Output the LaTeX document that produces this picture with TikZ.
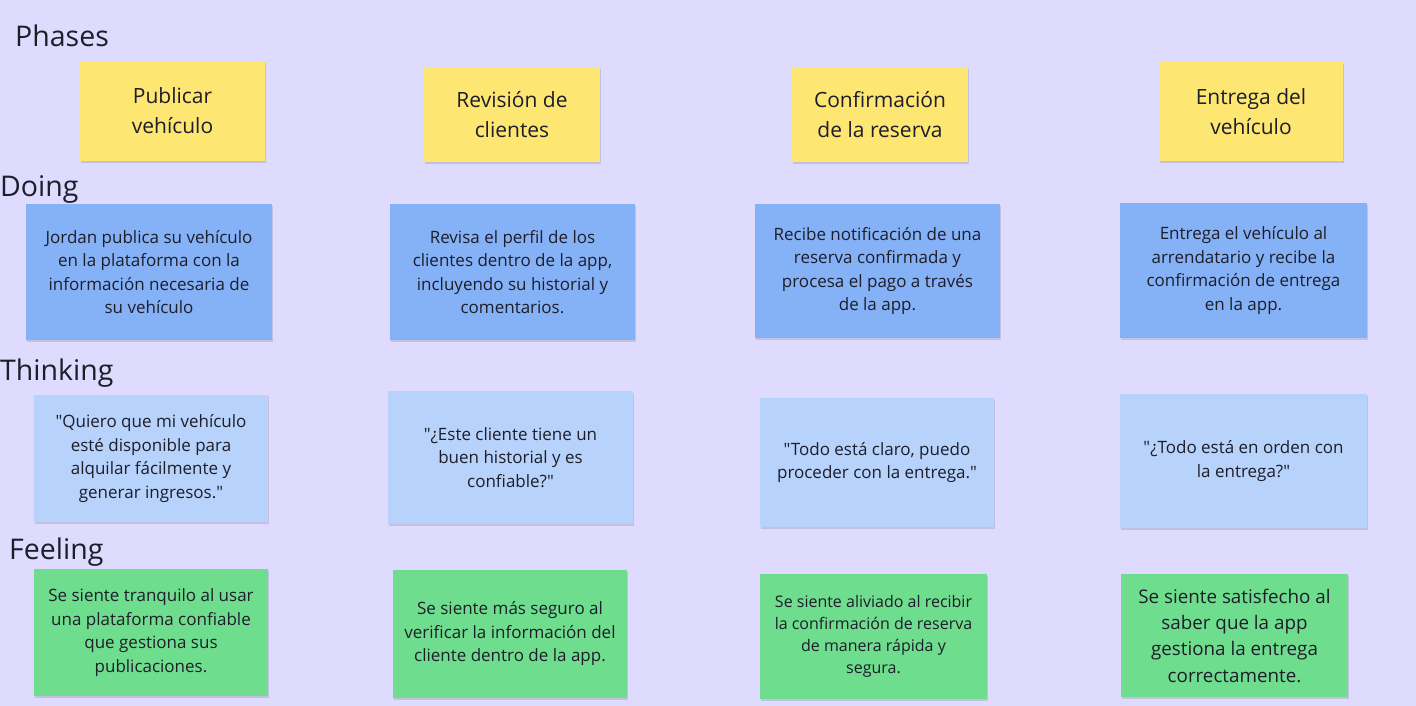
\documentclass[tikz,border=0pt]{standalone}
\usepackage{fontspec}
\newfontfamily\boardfont{Open Sans}
\usepackage{tikz}
\usetikzlibrary{positioning, shadows}
\definecolor{board}{HTML}{DEDBFF}
\definecolor{ink}{HTML}{1E1E2A}
\definecolor{nyellow}{HTML}{FDE672}
\definecolor{nblue}{HTML}{85B1F6}
\definecolor{nlight}{HTML}{B7D2FB}
\definecolor{ngreen}{HTML}{6EDD8E}
\tikzset{
  note/.style={
    fill=#1, draw=none, align=center, inner sep=4pt, text=ink,
    font=\boardfont\fontsize{17}{23.5}\selectfont,
    drop shadow={shadow xshift=0.6pt, shadow yshift=-2pt, opacity=0.12, fill=black}
  },
  note/.default=nblue,
  phase/.style={note=nyellow, font=\boardfont\fontsize{21}{30}\selectfont},
  rowlab/.style={anchor=west, inner sep=0pt, text=ink, font=\boardfont\fontsize{28.5}{32}\selectfont}
}
\begin{document}
\begin{tikzpicture}[x=1pt, y=-1pt]
  \fill[board] (0,0) rectangle (1416,706);
  \useasboundingbox (0,0) rectangle (1416,706);

  % row labels
  \node[rowlab] (lphases) at (15,36) {Phases};
  \node[rowlab] (ldoing) at (0,189) {Doing};
  \node[rowlab] (lthinking) at (0,373) {Thinking};
  \node[rowlab] (lfeeling) at (9,552) {Feeling};

  % phases
  \node[phase, minimum width=185, minimum height=100] (p1) at (172.5,111) {Publicar\\vehículo};
  \node[phase, minimum width=176, minimum height=95] (p2) at (512,114.5) {Revisión de\\clientes};
  \node[phase, minimum width=176, minimum height=95] (p3) at (880,114.5) {Confirmación\\de la reserva};
  \node[phase, minimum width=184, minimum height=99] (p4) at (1251,111.5) {Entrega del\\vehículo};

  % doing
  \node[note=nblue, minimum width=246, minimum height=136] (d1) at (149,272)
    {Jordan publica su vehículo\\en la plataforma con la\\información necesaria de\\su vehículo};
  \node[note=nblue, minimum width=245, minimum height=136] (d2) at (512.5,272)
    {Revisa el perfil de los\\clientes dentro de la app,\\incluyendo su historial y\\comentarios.};
  \node[note=nblue, minimum width=245, minimum height=134] (d3) at (877.5,271)
    {Recibe notificación de una\\reserva confirmada y\\procesa el pago a través\\de la app.};
  \node[note=nblue, minimum width=247, minimum height=135] (d4) at (1243.5,270.5)
    {Entrega el vehículo al\\arrendatario y recibe la\\confirmación de entrega\\en la app.};

  % thinking
  \node[note=nlight, minimum width=234, minimum height=127] (t1) at (151,458.5)
    {"Quiero que mi vehículo\\esté disponible para\\alquilar fácilmente y\\generar ingresos."};
  \node[note=nlight, minimum width=245, minimum height=133] (t2) at (510.5,457.5)
    {"¿Este cliente tiene un\\buen historial y es\\confiable?"};
  \node[note=nlight, minimum width=234, minimum height=129] (t3) at (877,462.5)
    {"Todo está claro, puedo\\proceder con la entrega."};
  \node[note=nlight, minimum width=247, minimum height=134] (t4) at (1243.5,461)
    {"¿Todo está en orden con\\la entrega?"};

  % feeling
  \node[note=ngreen, minimum width=234, minimum height=127] (f1) at (151,632.5)
    {Se siente tranquilo al usar\\una plataforma confiable\\que gestiona sus\\publicaciones.};
  \node[note=ngreen, minimum width=234, minimum height=128] (f2) at (510,634)
    {Se siente más seguro al\\verificar la información del\\cliente dentro de la app.};
  \node[note=ngreen, minimum width=227, minimum height=125, font=\boardfont\fontsize{16}{22}\selectfont] (f3) at (873.5,636.5)
    {Se siente aliviado al recibir\\la confirmación de reserva\\de manera rápida y\\segura.};
  \node[note=ngreen, minimum width=227, minimum height=123, font=\boardfont\fontsize{18.8}{26.3}\selectfont] (f4) at (1234.5,635.5)
    {Se siente satisfecho al\\saber que la app\\gestiona la entrega\\correctamente.};
\end{tikzpicture}
\end{document}
